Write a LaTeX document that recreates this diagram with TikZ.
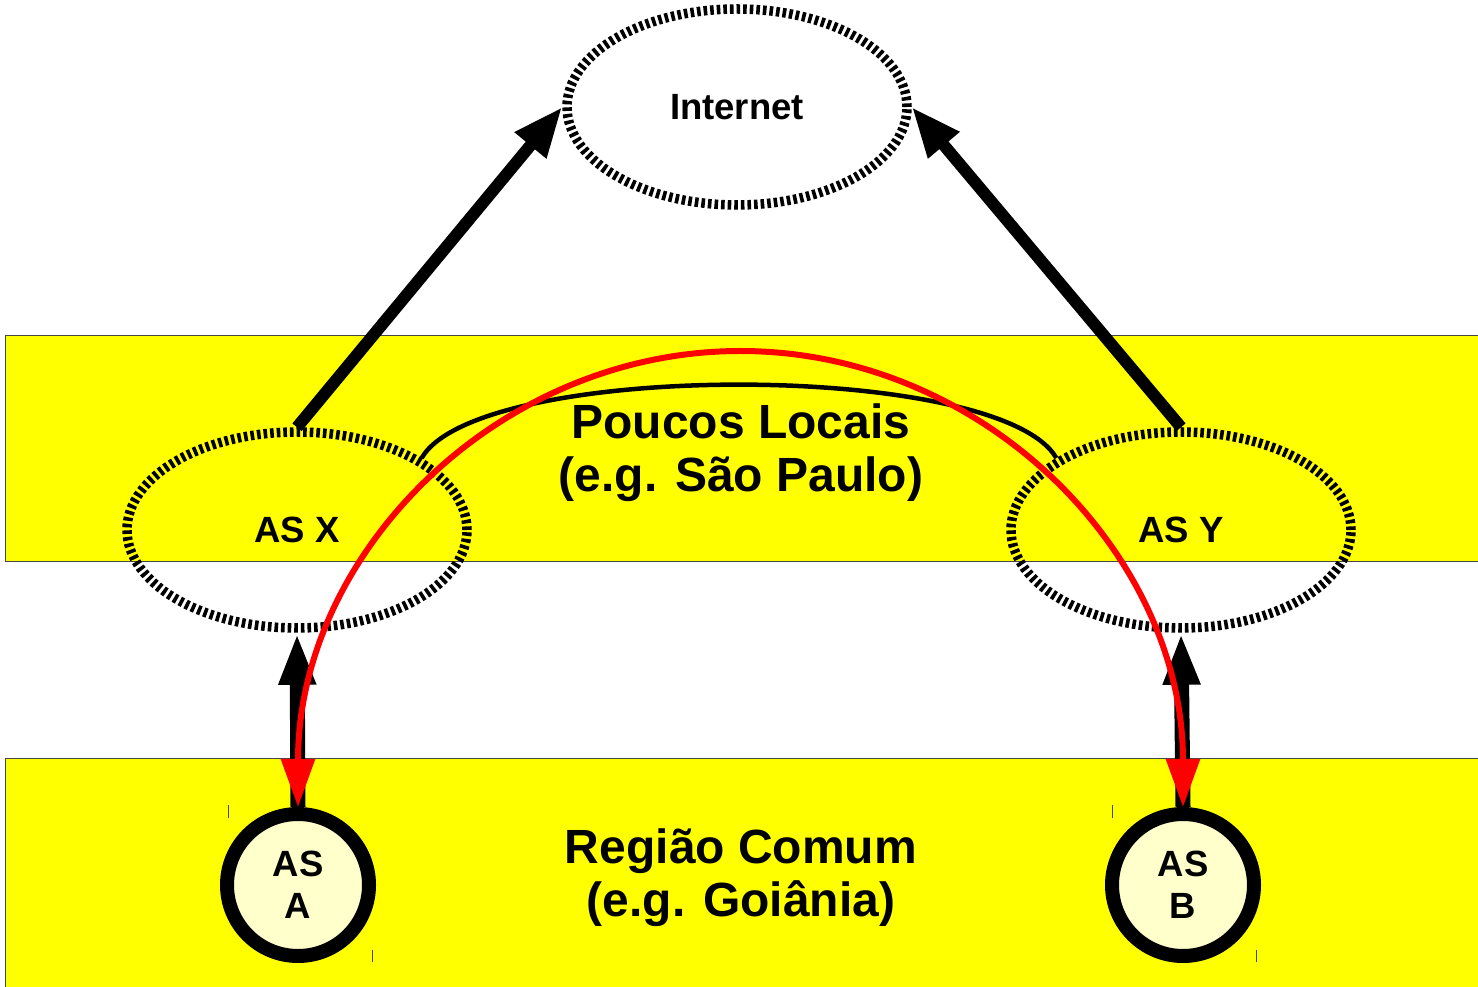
\documentclass[tikz,border=0pt]{standalone}
\usepackage{fontspec}
\setmainfont{Liberation Sans}
\usetikzlibrary{shapes.geometric,arrows.meta}
\definecolor{bandyellow}{RGB}{255,255,0}
\definecolor{circfill}{RGB}{255,255,204}
\definecolor{bandline}{RGB}{70,70,70}
\begin{document}
\begin{tikzpicture}[x=1pt,y=1pt,
  band/.style={fill=bandyellow, draw=bandline, line width=1pt},
  tickell/.style={ellipse, draw, line width=9.5pt, dash pattern=on 3.6pt off 3pt,
    minimum width=340pt, minimum height=196pt, inner sep=0pt,
    font=\fontsize{36.5}{42}\selectfont\bfseries},
  asnode/.style={circle, draw, line width=14pt, fill=circfill, minimum size=142pt,
    inner sep=0pt, align=center, font=\fontsize{36.5}{42}\selectfont\bfseries},
  big/.style={font=\fontsize{48}{53}\selectfont\bfseries, align=center},
  diagarrow/.style={line width=12pt, -{Triangle[length=50pt,width=38pt]}},
  vertarrow/.style={line width=15pt, -{Triangle[length=52pt,width=34pt]}},
  redarc/.style={red, line width=6pt,
    {Triangle[length=48pt,width=33pt]}-{Triangle[length=48pt,width=33pt]}},
  peer/.style={line width=4.5pt},
  corner/.style={draw=bandline, line width=1pt},
]
\useasboundingbox[fill=white] (0,0) rectangle (1478,986);
% bands
\draw[band] (5,424) rectangle (1482,650);
\draw[band] (5,-2) rectangle (1482,227);
% texts of bands
\node[big] (poucos) at (741,533) {Poucos Locais\\(e.g. São Paulo)};
\node[big] (regiao) at (741,108) {Região Comum\\(e.g. Goiânia)};
% ellipses
\node[tickell] (inet) at (737,879) {Internet};
\node[tickell] (ASX) at (297,456) {AS X};
\node[tickell] (ASY) at (1181,456) {AS Y};
% circles
\node[asnode] (ASA) at (298,101) {AS\\A};
\node[asnode] (ASB) at (1183,101) {AS\\B};
% small marks
\draw[corner] (228,181) -- (228,168);
\draw[corner] (372,36) -- (372,24);
\draw[corner] (1112,181) -- (1112,168);
\draw[corner] (1256,36) -- (1256,24);
% arrows
\draw[diagarrow] (ASX.north) -- (inet.west);
\draw[diagarrow] (ASY.north) -- (inet.east);
\draw[vertarrow] (ASA.north) -- (ASX.south);
\draw[vertarrow] (ASB.north) -- (ASY.south);
\draw[peer] (ASX.30) .. controls +(60:113pt) and +(120:113pt) .. (ASY.150);
\draw[redarc] (ASA.north) arc[start angle=180, end angle=0, x radius=442.5, y radius=456];
\end{tikzpicture}
\end{document}
